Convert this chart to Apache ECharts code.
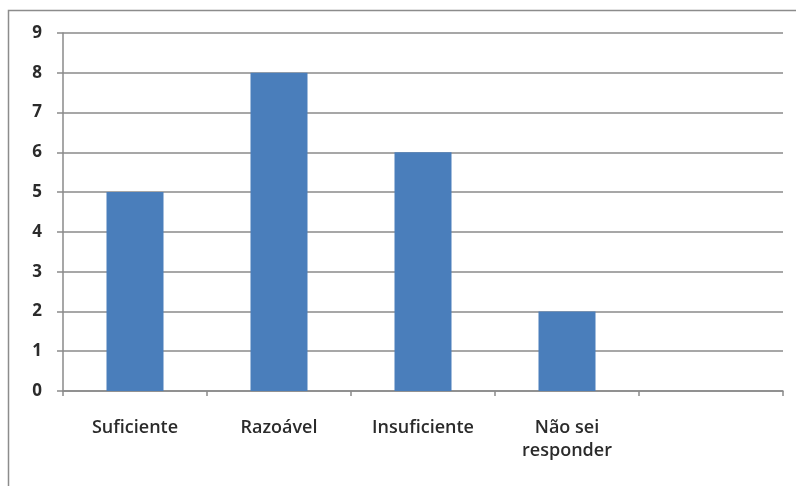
<!DOCTYPE html>
<html>
<head>
<meta charset="utf-8">
<script src="https://cdn.jsdelivr.net/npm/echarts@6/dist/echarts.min.js"></script>
<style>
  html, body { margin: 0; padding: 0; background: #fff; }
  #chart { width: 796px; height: 486px; }
</style>
</head>
<body>
<div id="chart"></div>
<script>
  const categories = ['Suficiente', 'Razoável', 'Insuficiente', 'Não sei\nresponder', ''];
  const counts = [5, 8, 6, 2, null];
  const yTicks = { min: 0, max: 9, interval: 1 };

  const chart = echarts.init(document.getElementById('chart'));
  chart.setOption({
    animation: false,
    backgroundColor: '#ffffff',
    graphic: [
      {
        type: 'rect',
        shape: { x: 8.5, y: 10.5, width: 800, height: 500 },
        style: { fill: 'none', stroke: '#8c8c8c', lineWidth: 1.5 },
        silent: true,
      },
    ],
    grid: { left: 63, right: 13, top: 33, bottom: 95 },
    xAxis: {
      type: 'category',
      data: categories,
      axisLine: { lineStyle: { color: '#8a8a8a', width: 1.5 } },
      axisTick: { show: true, length: 5, lineStyle: { color: '#8a8a8a', width: 1.5 } },
      axisLabel: {
        interval: 0,
        margin: 25,
        color: '#2b2b2b',
        fontFamily: 'Open Sans',
        fontWeight: 600,
        fontSize: 18,
        lineHeight: 23,
      },
    },
    yAxis: {
      type: 'value',
      min: yTicks.min,
      max: yTicks.max,
      interval: yTicks.interval,
      axisLine: { show: true, lineStyle: { color: '#8a8a8a', width: 1.5 } },
      axisTick: { show: true, length: 6, lineStyle: { color: '#8a8a8a', width: 1.5 } },
      splitLine: { lineStyle: { color: '#8a8a8a', width: 1.5 } },
      axisLabel: {
        margin: 21,
        color: '#2b2b2b',
        fontFamily: 'Open Sans',
        fontWeight: 'bold',
        fontSize: 17,
      },
    },
    series: [
      {
        type: 'bar',
        data: counts,
        barWidth: 57,
        itemStyle: { color: '#4a7ebb' },
      },
    ],
  });
</script>
</body>
</html>
